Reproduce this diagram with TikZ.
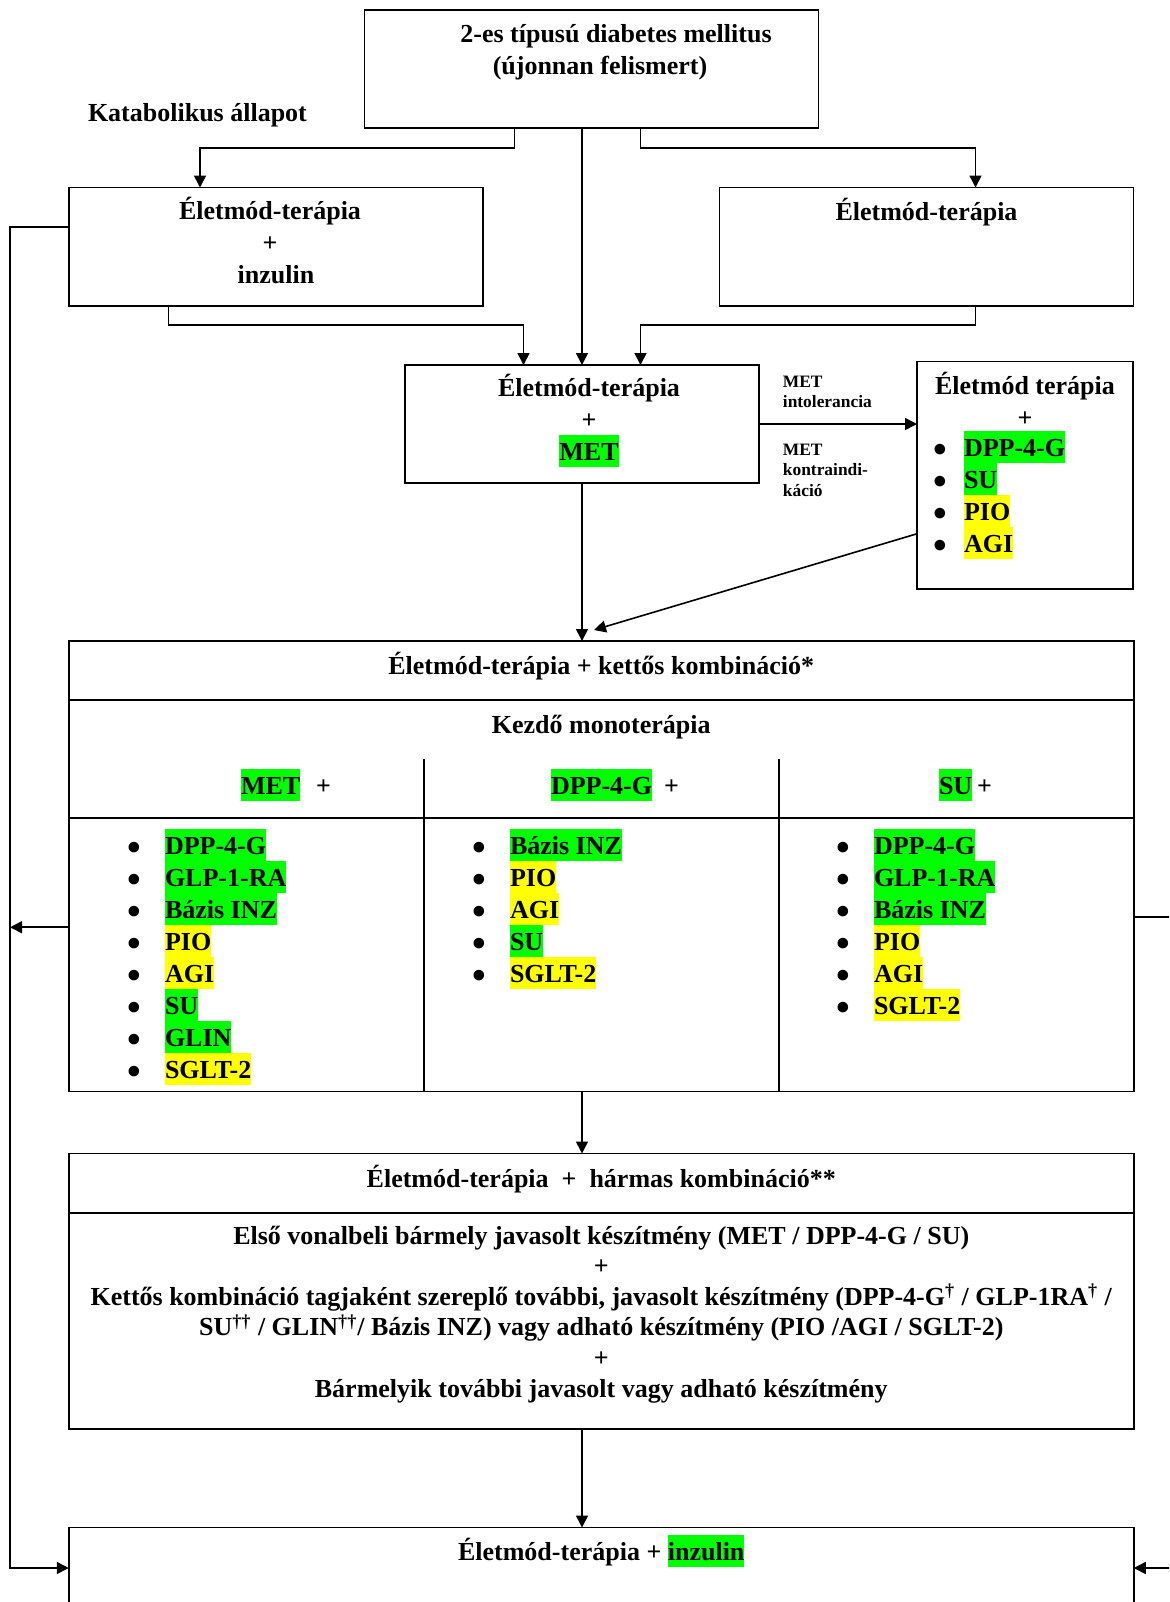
\documentclass[tikz,border=0pt]{standalone}
\usepackage{fontspec}
\setmainfont{Liberation Serif}
\usepackage{graphicx}
\usetikzlibrary{arrows.meta,calc,positioning}

\definecolor{hlgreen}{RGB}{0,255,0}
\definecolor{hlyellow}{RGB}{255,255,0}

\newcommand{\hst}{\rule[-3.5pt]{0pt}{16pt}}
\newcommand{\sst}{\rule[-2.5pt]{0pt}{10.25pt}}
\newcommand{\hl}[2]{{\setlength{\fboxsep}{0pt}\colorbox{#1}{\hst #2}}}
\newcommand{\hlg}[1]{\hl{hlgreen}{#1}}
\newcommand{\hly}[1]{\hl{hlyellow}{#1}}
\newcommand{\blt}[1][19pt]{\makebox[#1][l]{\raisebox{-3.3pt}{\scalebox{1.5}{\textbullet}}}}

\begin{document}
\begin{tikzpicture}[
    x=0.5pt, y=-0.5pt,
    box/.style={rectangle, draw, line width=0.8pt, inner sep=0pt, outer sep=0pt, anchor=north west},
    txt/.style={inner sep=0pt, outer sep=0pt, align=center, font=\fontsize{13}{16}\selectfont\bfseries, execute at begin node={\hst}},
    lbl/.style={inner sep=0pt, outer sep=0pt, align=left, font=\fontsize{8.7}{10.25}\selectfont\bfseries},
    line/.style={draw, line width=0.8pt, -{Triangle[length=6pt,width=6pt]}},
    divider/.style={draw, line width=0.8pt}
]
\useasboundingbox (0,0) rectangle (1169,1602);
\clip (0,0) rectangle (1169,1602);

% Boxes
\node[box, minimum width=227pt, minimum height=59pt] (dm) at (364.5,10) {};
\node[box, minimum width=207pt, minimum height=59.25pt] (lifeins) at (69,187.5) {};
\node[box, minimum width=207pt, minimum height=59.25pt] (lifeonly) at (719.5,187.5) {};
\node[box, minimum width=177.25pt, minimum height=59pt] (metbox) at (404.75,365) {};
\node[box, minimum width=108pt, minimum height=113.75pt] (altbox) at (917,361.5) {};
\node[box, minimum width=532.5pt, minimum height=225.25pt] (combo) at (68.75,641) {};
\node[box, minimum width=532.5pt, minimum height=137.75pt] (triple) at (68.75,1153.5) {};
\node[box, minimum width=532.5pt, minimum height=100pt] (insbox) at (68.75,1527.5) {};

% Texts
\node[txt, below=3.5pt of dm.north, xshift=8.25pt] (dmtext)
    {\hst\hspace*{8pt}2-es típusú diabetes mellitus\\(újonnan felismert)\hspace*{8pt}};
\node[txt, anchor=base west] (katlbl) at (88,121.5) {Katabolikus állapot};
\node[txt, below=3.25pt of lifeins.north, xshift=-3pt] (lifeinstext)
    {\hst Életmód-terápia\\+\hspace*{7pt}\\\hspace*{6pt}inzulin};
\node[txt, below=3.75pt of lifeonly.north] (lifeonlytext) {Életmód-terápia};
\node[txt, below=3pt of metbox.north, xshift=3.5pt] (mettext) {\hst Életmód-terápia\\+\hspace*{6pt}\\\hlg{MET}};
\node[txt, below=4pt of altbox.north] (alttitle) {\hst Életmód terápia\\+};
\node[txt, align=left, anchor=north west] (altlist) at ($(altbox.north west)+(16.6,69.5)$)
    {\blt[15.2pt]\hlg{DPP-4-G}\\ \blt[15.2pt]\hlg{SU}\\ \blt[15.2pt]\hly{PIO}\\ \blt[15.2pt]\hly{AGI}};

\node[txt, below=4pt of combo.north] (combohead) {Életmód-terápia + kettős kombináció*};
\node[txt, below=33.5pt of combo.north] (monohead) {Kezdő monoterápia};
\node[txt, anchor=north west] (methead) at ($(combo.north west)+(172.25,128)$) {\hlg{MET}\hspace{8pt}+};
\node[txt, anchor=north west] (dpphead) at ($(combo.north west)+(482.25,128)$) {\hlg{DPP-4-G}\hspace{6pt}+};
\node[txt, anchor=north west] (suhead) at ($(combo.north west)+(870.25,128)$) {\hlg{SU}\hspace{2.5pt}+};
\node[txt, align=left, anchor=north west] (metlist) at ($(combo.north west)+(58.25,188)$)
    {\blt\hlg{DPP-4-G}\\ \blt\hlg{GLP-1-RA}\\ \blt\hlg{Bázis INZ}\\ \blt\hly{PIO}\\
     \blt\hly{AGI}\\ \blt\hlg{SU}\\ \blt\hlg{GLIN}\\ \blt\hly{SGLT-2}};
\node[txt, align=left, anchor=north west] (dpplist) at ($(combo.north west)+(403.25,188)$)
    {\blt\hlg{Bázis INZ}\\ \blt\hly{PIO}\\ \blt\hly{AGI}\\ \blt\hlg{SU}\\ \blt\hly{SGLT-2}};
\node[txt, align=left, anchor=north west] (sulist) at ($(combo.north west)+(767.25,188)$)
    {\blt\hlg{DPP-4-G}\\ \blt\hlg{GLP-1-RA}\\ \blt\hlg{Bázis INZ}\\ \blt\hly{PIO}\\
     \blt\hly{AGI}\\ \blt\hly{SGLT-2}};

\node[txt, below=4.25pt of triple.north] (triplehead) {Életmód-terápia \ + \ hármas kombináció**};
\node[txt, font=\fontsize{13}{15.3}\selectfont\bfseries, below=32.75pt of triple.north] (tripletext)
    {\hst Első vonalbeli bármely javasolt készítmény (MET / DPP-4-G / SU)\\
     +\\
     Kettős kombináció tagjaként szereplő további, javasolt készítmény (DPP-4-G\textsuperscript{†} / GLP-1RA\textsuperscript{†} /\\
     SU\textsuperscript{††} / GLIN\textsuperscript{††}/ Bázis INZ) vagy adható készítmény (PIO /AGI / SGLT-2)\\
     +\\
     Bármelyik további javasolt vagy adható készítmény};
\node[txt, below=3.75pt of insbox.north] (instext) {Életmód-terápia + \hlg{inzulin}};

% Dividers
\draw[divider] ($(combo.north west)+(0,59)$) -- ($(combo.north east)+(0,59)$);
\draw[divider] ($(combo.north west)+(0,177)$) -- ($(combo.north east)+(0,177)$);
\draw[divider] ($(combo.north west)+(355,118)$) -- ($(combo.south west)+(355,0)$);
\draw[divider] ($(combo.north west)+(710,118)$) -- ($(combo.south west)+(710,0)$);
\draw[divider] ($(triple.north west)+(0,59.25)$) -- ($(triple.north east)+(0,59.25)$);

% Lines
\draw[line] ($(dm.south)+(-77,0)$) -- ++(0,20) -| ($(lifeins.north)+(-76,0)$);
\draw[line] ($(dm.south)+(49,0)$) -- ++(0,20) -| ($(lifeonly.north)+(49,0)$);
\draw[line] (dm.south -| metbox.north) -- (metbox.north);
\draw[line] ($(lifeins.south)+(-107.5,0)$) -- ++(0,19) -| ($(metbox.north)+(-58.5,0)$);
\draw[line] ($(lifeonly.south)+(49,0)$) -- ++(0,19) -| ($(metbox.north)+(58.5,0)$);
\draw[line] (metbox.east) -- (metbox.east -| altbox.west)
    node[lbl, pos=0.15, anchor=north west, yshift=26.25pt] (intollbl) {\sst MET\\intolerancia}
    node[lbl, pos=0.15, anchor=north west, yshift=-7.75pt] (contralbl) {\sst MET\\kontraindi-\\káció};
\draw[line] ($(altbox.west)+(0,58.5)$) -- ($(combo.north)+(-7.25,-11)$);
\draw[line] (metbox.south) -- (metbox.south |- combo.north);
\draw[line] (metbox.south |- combo.south) -- (metbox.south |- triple.north);
\draw[line] (metbox.south |- triple.south) -- (metbox.south |- insbox.north);

% Feedback lines
\coordinate (railL) at (10,0);
\coordinate (railR) at (1185,0);
\coordinate (insL) at ($(insbox.north west)+(0,40.5)$);
\coordinate (insR) at ($(insbox.north east)+(0,40.5)$);
\coordinate (comboL) at ($(combo.west)+(0,61)$);
\coordinate (comboR) at ($(combo.east)+(0,51)$);
\draw[line] ($(lifeins.west)+(0,-20)$) -| (railL |- insL) -- (insL);
\draw[line] (comboL) -- (railL |- comboL);
\draw[line] (comboR) -| (railR |- insR) -- (insR);

\end{tikzpicture}
\end{document}
